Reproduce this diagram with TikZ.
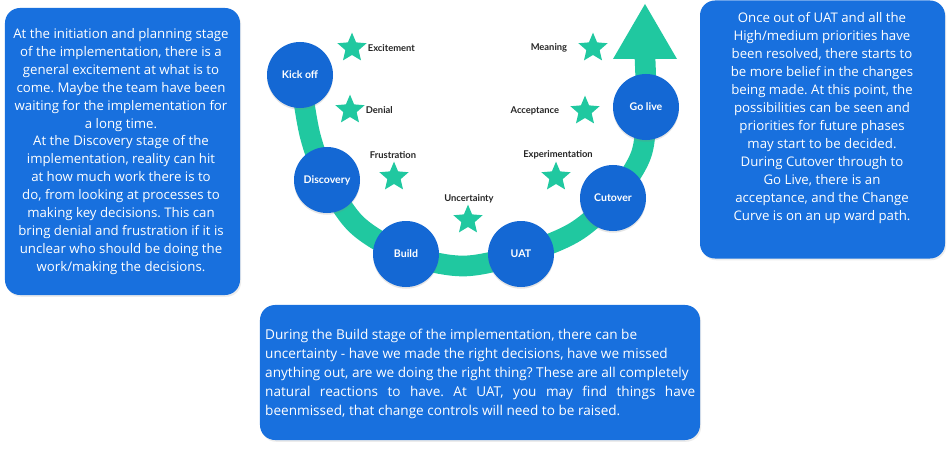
\documentclass[tikz,border=0pt]{standalone}
\usepackage{fontspec}
\setmainfont{Open Sans}
\newfontfamily\latofont{Lato}
\usetikzlibrary{positioning, shapes.geometric, shadows, backgrounds}
\definecolor{boxblue}{RGB}{24, 112, 222}
\definecolor{stageblue}{RGB}{20, 104, 212}
\definecolor{curvegreen}{RGB}{32, 200, 160}
\frenchspacing

\begin{document}
\begin{tikzpicture}[x=0.03cm, y=-0.03cm,
    infobox/.style={fill=boxblue, rounded corners=0.45cm, inner sep=0pt,
        drop shadow={opacity=0.15, shadow xshift=1pt, shadow yshift=-1.5pt}},
    infotext/.style={text=white, font=\fontsize{11.3}{15.3}\selectfont, inner sep=0pt},
    stage/.style={circle, fill=stageblue, minimum size=1.98cm, inner sep=0pt,
        text=white, font=\latofont\bfseries\fontsize{9}{10}\selectfont,
        drop shadow={opacity=0.2, shadow xshift=0pt, shadow yshift=-1.5pt}},
    mood/.style={star, star points=5, star point ratio=2.2, fill=curvegreen,
        minimum size=0.92cm, inner sep=0pt},
    moodlabel/.style={font=\latofont\bfseries\fontsize{8}{9}\selectfont, text=black!85, inner sep=1pt}]

    % text boxes
    \node[infobox, minimum width=7.05cm, minimum height=8.61cm] (leftbox) at (122.5,151.5) {};
    \node[infotext, align=center] (lefttext) at (121,151.5) {At the initiation and planning stage\\
        of the implementation, there is a\\
        general excitement at what is to\\
        come. Maybe the team have been\\
        waiting for the implementation for\\
        a long time.\\
        At the Discovery stage of the\\
        implementation, reality can hit\\
        at how much work there is to\\
        do, from looking at processes to\\
        making key decisions. This can\\
        bring denial and frustration if it is\\
        unclear who should be doing the\\
        work/making the decisions.};

    \node[infobox, minimum width=7.35cm, minimum height=7.74cm] (rightbox) at (822.5,129.5) {};
    \node[infotext, align=center] (righttext) at (822,118) {Once out of UAT and all the\\
        High/medium priorities have\\
        been resolved, there starts to\\
        be more belief in the changes\\
        being made. At this point, the\\
        possibilities can be seen and\\
        priorities for future phases\\
        may start to be decided.\\
        During Cutover through to\\
        Go Live, there is an\\
        acceptance, and the Change\\
        Curve is on an up ward path.};

    \node[infobox, minimum width=13.2cm, minimum height=4.05cm] (bottombox) at (480,372.5) {};
    \node[infotext, font=\fontsize{11.6}{16.2}\selectfont, align=justify, text width=12.9cm, anchor=west] (bottomtext) at (265,373.5) {During the Build stage of the implementation, there can be\newline
        uncertainty - have we made the right decisions, have we missed\newline
        anything out, are we doing the right thing? These are all completely\newline
        natural reactions to have. At UAT, you may find things have\linebreak
        beenmissed, that change controls will need to be raised.};

    % the change curve
    \node[stage] (kickoff) at (300,75) {Kick off};
    \node[stage] (discovery) at (327,180) {Discovery};
    \node[stage] (build) at (406,254) {Build};
    \node[stage] (uat) at (521,254) {UAT};
    \node[stage] (cutover) at (613,198) {Cutover};
    \node[stage] (golive) at (646,107) {Go live};

    \coordinate (c1) at (310,135);
    \coordinate (c2) at (357,225);
    \coordinate (c3) at (463,266);
    \coordinate (c4) at (575,232);
    \coordinate (c5) at (641,155);
    \coordinate (tip) at (645,58);

    \begin{scope}[on background layer]
        \fill[white] (0,0) rectangle (950,450);
        \draw[curvegreen, line width=0.62cm] plot[smooth, tension=0.55] coordinates {(kickoff.center) (c1) (discovery.center) (c2) (build.center) (c3) (uat.center) (c4) (cutover.center) (c5) (golive.center) (tip)};
        \fill[curvegreen] (613,59) -- (677,59) -- (645,4) -- cycle;
    \end{scope}

    % moods
    \node[mood] (excite) at (352,48) {};
    \node[mood] (denial) at (350,110) {};
    \node[mood] (frust) at (394,177) {};
    \node[mood] (uncert) at (468,220) {};
    \node[mood] (experi) at (556,177) {};
    \node[mood] (accept) at (585,111) {};
    \node[mood] (meaning) at (593,48) {};

    \node[moodlabel, right=0.15cm of excite] (exciteL) {Excitement};
    \node[moodlabel, right=0.15cm of denial] (denialL) {Denial};
    \node[moodlabel] (frustL) at (393,155) {Frustration};
    \node[moodlabel] (uncertL) at (469,199) {Uncertainty};
    \node[moodlabel] (experiL) at (558,155) {Experimentation};
    \node[moodlabel, left=0.45cm of accept] (acceptL) {Acceptance};
    \node[moodlabel, left=0.45cm of meaning] (meaningL) {Meaning};
\end{tikzpicture}
\end{document}
